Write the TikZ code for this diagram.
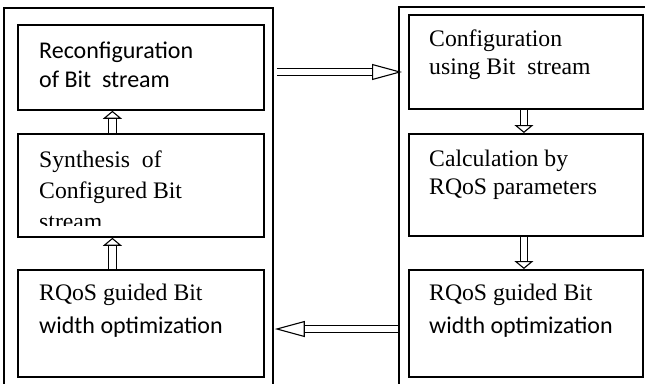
\documentclass[tikz,border=0pt]{standalone}
\usepackage{fontspec}
\setmainfont{Liberation Serif}
\newfontfamily\carl{Carlito}
\usetikzlibrary{arrows.meta}

\tikzset{
  outerbox/.style={draw,line width=1.8pt,inner sep=0pt},
  stagebox/.style={draw,line width=1.8pt,inner sep=0pt},
  stagetext/.style={anchor=base west,align=left,inner sep=0pt,
    font=\fontsize{23.7}{28}\selectfont},
  vblock/.style={double,line width=1.1pt,double distance=6.5pt,
    -{Triangle[open,length=8pt,width=19pt,line width=1.1pt]}},
  hblock/.style={double,line width=1.1pt,double distance=6pt,
    -{Triangle[open,length=30pt,width=16pt,line width=1.1pt]}}
}
\newcommand{\sanstext}{\carl\fontsize{24}{29}\selectfont}

\begin{document}
\begin{tikzpicture}[x=1pt,y=-1pt]

\useasboundingbox (0,0) rectangle (645,383);

%====================================================
% Outer frames
%====================================================
\node[outerbox,anchor=north west,minimum width=269pt,minimum height=390pt]
  (lframe) at (3,7) {};
\node[outerbox,anchor=north west,minimum width=270pt,minimum height=390pt]
  (rframe) at (398,6) {};

%====================================================
% Left column
%====================================================
\node[stagebox,anchor=north west,minimum width=246pt,minimum height=85pt]
  (lrec) at (17,24) {};
\node[stagebox,anchor=north west,minimum width=246pt,minimum height=103pt]
  (lsyn) at (17,133) {};
\node[stagebox,anchor=north west,minimum width=246pt,minimum height=107pt]
  (lopt) at (17,269) {};

\node[stagetext,font=\sanstext] (lrectxt) at (39,87) {Reconfiguration\\of Bit~ stream};
\begin{scope}
\clip (17,133) rectangle (263,225);
\node[stagetext,font=\fontsize{23.7}{31}\selectfont]
  (lsyntxt) at (39,229) {Synthesis~ of\\Configured Bit\\stream};
\end{scope}
\node[stagetext] (lopttxt) at (39,333)
  {RQoS guided Bit\\[5pt]{\sanstext width optimization}};

%====================================================
% Right column
%====================================================
\node[stagebox,anchor=north west,minimum width=234pt,minimum height=94pt]
  (rcfg) at (408,14) {};
\node[stagebox,anchor=north west,minimum width=234pt,minimum height=102pt]
  (rcal) at (408,133) {};
\node[stagebox,anchor=north west,minimum width=234pt,minimum height=107pt]
  (ropt) at (408,269) {};

\node[stagetext] (rcfgtxt) at (429,74) {Configuration\\using Bit~ stream};
\node[stagetext] (rcaltxt) at (429,194) {Calculation by\\RQoS parameters};
\node[stagetext] (ropttxt) at (429,333)
  {RQoS guided Bit\\[5pt]{\sanstext width optimization}};

%====================================================
% Arrows
%====================================================
\draw[vblock] ([xshift=-28.5pt]lsyn.north) -- ([xshift=-28.5pt]lrec.south);
\draw[vblock] ([xshift=-28.5pt]lopt.north) -- ([xshift=-28.5pt]lsyn.south);
\draw[vblock] ([xshift=-2pt]rcfg.south) -- ([xshift=-2pt]rcal.north);
\draw[vblock] ([xshift=-2pt]rcal.south) -- ([xshift=-2pt]ropt.north);

\draw[hblock] ([xshift=3pt]lframe.east |- 0,72) -- ([xshift=4pt]rframe.west |- 0,72);
\draw[hblock] (rframe.west |- 0,329) -- ([xshift=1pt]lframe.east |- 0,329);

\end{tikzpicture}
\end{document}
